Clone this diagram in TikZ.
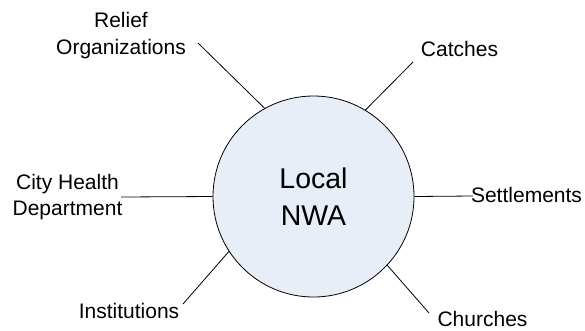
\documentclass[tikz,border=0pt]{standalone}
\usepackage{fontspec}
\setmainfont{Liberation Sans}
\definecolor{hubfill}{RGB}{232,238,248}
\begin{document}
\begin{tikzpicture}[x=1pt,y=-1pt,
  lbl/.style={inner sep=0pt, align=center, font=\fontsize{21}{26.5}\selectfont},
  link/.style={draw=black, line width=0.8pt},
  hub/.style={circle, draw=black, line width=0.8pt, fill=hubfill, minimum size=201pt, inner sep=0pt, align=center, font=\fontsize{28.5}{37}\selectfont}]
\useasboundingbox (0,0) rectangle (585,330);
\node[hub] (c) at (313.5,196.5) {Local\\NWA};
\node[lbl, anchor=base] (relief) at (121,54) {Relief\\Organizations};
\node[lbl, anchor=base] (catches) at (459.5,56) {Catches};
\node[lbl, anchor=base] (city) at (67.5,215.7) {City Health\\Department};
\node[lbl, anchor=base] (inst) at (129,318.3) {Institutions};
\node[lbl, anchor=base] (settle) at (526.5,202.3) {Settlements};
\node[lbl, anchor=base] (church) at (482.5,326.7) {Churches};
\coordinate (er) at (198,43);
\coordinate (ec) at (413,62);
\coordinate (eh) at (121,197);
\coordinate (ei) at (183,304);
\coordinate (es) at (473,196);
\coordinate (ech) at (429,313);
\draw[link] (c.119.7) -- (er);
\draw[link] (c.59) -- (ec);
\draw[link] (c.180) -- (eh);
\draw[link] (c.213.8) -- (ei);
\draw[link] (c.0) -- (es);
\draw[link] (c.317) -- (ech);
\end{tikzpicture}
\end{document}
